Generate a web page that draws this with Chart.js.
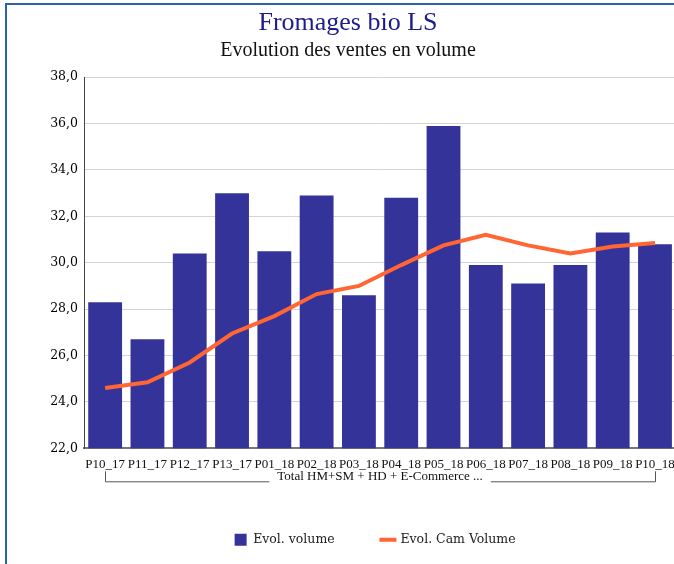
<!DOCTYPE html>
<html lang="fr">
<head>
<meta charset="UTF-8">
<title>Fromages bio LS</title>
<style>
    html, body {
        margin: 0;
        padding: 0;
        background: #ffffff;
        overflow: hidden;
    }
    .frame {
        position: absolute;
        left: 5px;
        top: 3px;
        width: 760px;
        height: 700px;
        border: 2px solid #2a62ae;
    }
    #chart {
        position: absolute;
        left: 0;
        top: 0;
    }
</style>
</head>
<body>
<div class="frame"></div>
<canvas id="chart" width="683" height="556"></canvas>

<script src="https://cdn.jsdelivr.net/npm/chart.js"></script>
<script>
    // data
    const periods = ["P10_17", "P11_17", "P12_17", "P13_17", "P01_18", "P02_18", "P03_18",
                     "P04_18", "P05_18", "P06_18", "P07_18", "P08_18", "P09_18", "P10_18"];
    const evolVolume = [28.3, 26.7, 30.4, 33.0, 30.5, 32.9, 28.6, 32.8, 35.9, 29.9, 29.1, 29.9, 31.3, 30.8];
    const evolCamVolume = [24.6, 24.85, 25.7, 26.95, 27.7, 28.65, 29.0, 29.9, 30.75, 31.2, 30.75, 30.4, 30.7, 30.85];
    const groupLabel = "Total HM+SM + HD + E-Commerce ...";
    const yMin = 22, yMax = 38, yStep = 2;

    // bracket under the period labels
    const groupBracket = {
        id: "groupBracket",
        afterDraw(chart) {
            const x = chart.scales.x;
            const ctx = chart.ctx;
            const x1 = Math.round(x.getPixelForValue(0)) + 0.5;
            const x2 = Math.round(x.getPixelForValue(periods.length - 1)) + 0.5;
            const yTop = chart.chartArea.bottom + 23;
            const yBot = chart.chartArea.bottom + 33.5;
            ctx.save();
            ctx.font = "13px 'Liberation Serif'";
            const mid = (x.left + x.right) / 2;
            const half = ctx.measureText(groupLabel).width / 2 + 8;
            ctx.strokeStyle = "#555555";
            ctx.lineWidth = 1;
            ctx.beginPath();
            ctx.moveTo(x1, yTop);
            ctx.lineTo(x1, yBot);
            ctx.lineTo(mid - half, yBot);
            ctx.moveTo(mid + half, yBot);
            ctx.lineTo(x2, yBot);
            ctx.lineTo(x2, yTop);
            ctx.stroke();
            ctx.restore();
        }
    };

    // the legend sits a little right of the title centre
    const legendShift = {
        id: "legendShift",
        afterLayout(chart) {
            chart.legend.left += 27;
            chart.legend.right += 27;
        }
    };

    new Chart(document.getElementById("chart"), {
        type: "bar",
        data: {
            labels: periods,
            datasets: [
                {
                    label: "Evol. volume",
                    data: evolVolume,
                    backgroundColor: "#333399",
                    borderWidth: 0,
                    pointStyle: "rect",
                    categoryPercentage: 1,
                    barPercentage: 0.8,
                    order: 2
                },
                {
                    type: "line",
                    label: "Evol. Cam Volume",
                    data: evolCamVolume,
                    borderColor: "#ff6633",
                    backgroundColor: "#ff6633",
                    borderWidth: 4,
                    pointRadius: 0,
                    pointStyle: "line",
                    tension: 0,
                    fill: false,
                    order: 1
                }
            ]
        },
        options: {
            responsive: false,
            animation: false,
            layout: { padding: { left: 17, right: 4, top: 0, bottom: 0 } },
            plugins: {
                title: {
                    display: true,
                    text: "Fromages bio LS",
                    color: "#1c1c8c",
                    font: { family: "'Liberation Serif'", size: 26, weight: "normal" },
                    padding: { top: 8, bottom: 0 }
                },
                subtitle: {
                    display: true,
                    text: "Evolution des ventes en volume",
                    color: "#111111",
                    font: { family: "'Liberation Serif'", size: 20 },
                    padding: { top: 0, bottom: 14 }
                },
                legend: {
                    position: "bottom",
                    labels: {
                        usePointStyle: true,
                        boxHeight: 12,
                        padding: 47,
                        color: "#222222",
                        font: { family: "'DejaVu Serif'", size: 12.5 },
                        sort: (a, b) => a.datasetIndex - b.datasetIndex
                    }
                },
                tooltip: { enabled: false }
            },
            scales: {
                x: {
                    grid: { display: false, drawTicks: false },
                    border: { color: "#777777", width: 2 },
                    ticks: {
                        autoSkip: false,
                        maxRotation: 0,
                        padding: 8,
                        color: "#111111",
                        font: { family: "'Liberation Serif'", size: 13 }
                    },
                    title: {
                        display: true,
                        text: groupLabel,
                        color: "#111111",
                        font: { family: "'Liberation Serif'", size: 13 },
                        padding: { top: -11, bottom: 2 }
                    }
                },
                y: {
                    min: yMin,
                    max: yMax,
                    afterFit(scale) { scale.width = 67; },
                    grid: { color: "#d4d4d4", drawTicks: false },
                    border: { color: "#444444", width: 1 },
                    ticks: {
                        stepSize: yStep,
                        padding: 6,
                        color: "#000000",
                        font: { family: "'DejaVu Serif'", size: 12.5 },
                        callback: (v) => v.toFixed(1).replace(".", ",")
                    }
                }
            }
        },
        plugins: [groupBracket, legendShift]
    });
</script>
</body>
</html>
